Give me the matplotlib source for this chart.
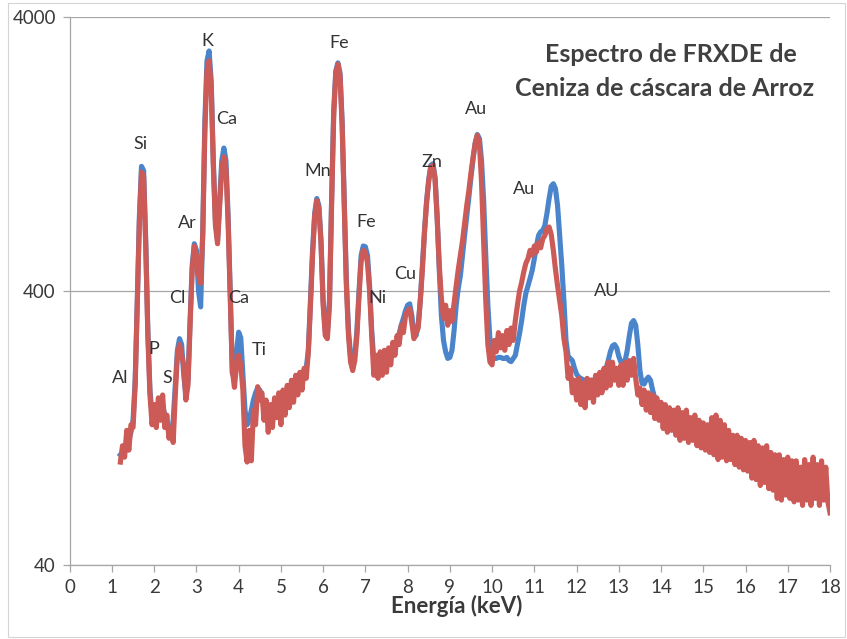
import numpy as np
import matplotlib
matplotlib.use("Agg")
import matplotlib.pyplot as plt
from matplotlib.patches import Rectangle
from matplotlib.ticker import NullLocator, FixedLocator, FixedFormatter

plt.rcParams['font.family'] = ['Lato', 'DejaVu Sans']

# Energy channels (keV), 0.05 keV apart
energy = np.round(np.arange(1.20, 18.0001, 0.05), 2)

# Smooth spectrum (counts), one row per keV
blue_counts = [
    101, 103, 107, 109, 114, 122, 135, 189, 369, 750, 1140, 1100, 611, 287, 174, 141,
    144, 154, 147, 160, 154, 141, 130, 124, 119, 135, 181, 243, 268, 255, 197, 167, 189, 312, 495, 595,
    563, 400, 350, 665, 1670, 2767, 3007, 2340, 1195, 723, 611, 855, 1195, 1330, 1195, 750, 400, 200, 195, 240,
    283, 270, 200, 147, 130, 135, 147, 160, 170, 177, 174, 163, 154, 147, 144, 150, 154, 154, 160, 157,
    160, 163, 165, 167, 170, 170, 174, 177, 181, 184, 189, 197, 209, 243, 369, 563, 770, 870, 820, 611,
    369, 287, 280, 369, 855, 1820, 2545, 2720, 2500, 1670, 855, 437, 287, 233, 218, 233, 287, 400, 540, 584,
    580, 540, 418, 287, 223, 209, 205, 209, 211, 215, 220, 223, 231, 243, 255, 264, 280, 300, 318, 339,
    355, 359, 325, 280, 275, 300, 369, 495, 665, 855, 1020, 1150, 1165, 1040, 750, 476, 325, 264, 240, 227,
    229, 243, 287, 355, 410, 456, 540, 640, 750, 880, 1040, 1215, 1390, 1490, 1440, 1195, 855, 540, 355, 264,
    233, 227, 227, 229, 229, 227, 227, 229, 223, 221, 227, 233, 255, 280, 312, 355, 393, 418, 445, 476,
    525, 584, 638, 658, 665, 695, 770, 870, 965, 985, 945, 820, 638, 495, 369, 264, 231, 227, 223, 209,
    199, 194, 192, 190, 189, 189, 189, 189, 189, 190, 192, 194, 197, 202, 209, 223, 240, 252, 255, 248,
    231, 220, 217, 223, 243, 275, 305, 312, 300, 255, 205, 184, 183, 190, 194, 189, 174, 163, 155, 151,
    150, 149, 147, 147, 147, 146, 144, 142, 140, 137, 135, 134, 132, 131, 130, 129, 127, 126, 126, 125,
    124, 123, 122, 121, 120, 119, 118, 118, 117, 116, 115, 115, 114, 113, 113, 112, 112, 111, 111, 110,
    110, 109, 108, 107, 106, 105, 104, 103, 102, 101, 100, 99, 98, 97, 96, 95, 94, 93, 92, 91,
    90, 89, 88, 87, 86, 85, 84, 83, 82, 81, 80, 79, 78, 77, 76, 75, 74, 73, 72, 71,
    69,
]

# Raw (noisy) spectrum (counts), one row per keV
red_counts = [
    95, 109, 99, 124, 105, 130, 127, 181, 355, 715, 1085, 1050, 584, 275, 167, 130,
    154, 127, 163, 135, 167, 127, 141, 116, 127, 112, 167, 233, 255, 233, 215, 160, 181, 300, 480, 584,
    540, 456, 427, 638, 1530, 2545, 2767, 2220, 1150, 695, 595, 820, 1115, 1235, 1115, 715, 384, 205, 178, 215,
    233, 215, 174, 109, 95, 124, 96, 147, 130, 179, 160, 170, 135, 160, 122, 154, 127, 163, 138, 170,
    130, 174, 141, 181, 150, 189, 157, 197, 167, 202, 174, 209, 192, 240, 355, 540, 750, 855, 800, 595,
    355, 275, 268, 355, 820, 1740, 2500, 2690, 2440, 1600, 820, 418, 275, 220, 205, 223, 275, 384, 517, 563,
    555, 505, 400, 275, 197, 233, 192, 240, 197, 243, 202, 248, 215, 260, 233, 275, 255, 300, 282, 325,
    339, 345, 306, 268, 282, 293, 369, 480, 655, 840, 1010, 1135, 1150, 1020, 730, 495, 375, 318, 355, 300,
    339, 310, 360, 418, 480, 540, 610, 705, 820, 930, 1080, 1230, 1380, 1480, 1380, 1000, 611, 369, 255, 220,
    215, 264, 240, 282, 248, 275, 243, 287, 255, 293, 264, 312, 355, 400, 430, 470, 505, 525, 563, 540,
    584, 555, 600, 575, 620, 638, 675, 685, 644, 563, 480, 418, 369, 325, 268, 240, 192, 209, 170, 189,
    160, 192, 154, 184, 150, 192, 163, 189, 157, 197, 167, 202, 170, 209, 177, 220, 181, 220, 189, 209,
    181, 215, 181, 220, 189, 223, 197, 227, 192, 167, 177, 154, 174, 147, 170, 144, 167, 137, 163, 135,
    157, 126, 154, 122, 150, 124, 147, 119, 150, 114, 144, 116, 147, 112, 138, 114, 141, 109, 135, 107,
    132, 105, 130, 103, 138, 101, 141, 97, 135, 99, 130, 96, 124, 97, 119, 93, 119, 91, 116, 89,
    114, 88, 112, 83, 114, 82, 109, 78, 107, 80, 109, 76, 103, 75, 101, 70, 101, 69, 97, 72,
    99, 70, 96, 68, 96, 69, 91, 66, 97, 69, 93, 66, 99, 70, 93, 66, 96, 69, 91, 68,
    62,
]

x_ticks = list(range(0, 19))
y_ticks = [40, 400, 4000]
y_tick_labels = ["40", "400", "4000"]

# Element labels: (name, energy keV, counts)
peak_labels = [
    ("Si", 1.67, 1375), ("K", 3.25, 3270), ("Ca", 3.72, 1700), ("Ar", 2.78, 711),
    ("Cl", 2.54, 376), ("Ca", 4.01, 376), ("P", 2.00, 245), ("Ti", 4.48, 243),
    ("Al", 1.19, 192), ("S", 2.30, 193), ("Fe", 6.38, 3217), ("Mn", 5.86, 1100),
    ("Fe", 7.01, 716), ("Ni", 7.28, 376), ("Cu", 7.94, 463), ("Zn", 8.58, 1185),
    ("Au", 9.62, 1850), ("Au", 10.75, 945), ("AU", 12.70, 400),
]

title_lines = ["Espectro de FRXDE de", "Ceniza de cáscara de Arroz"]
x_label = "Energía (keV)"

assert len(blue_counts) == len(energy) == len(red_counts)

W, H = 847, 639
fig = plt.figure(figsize=(W / 100, H / 100), dpi=100)
fig.patch.set_facecolor("white")
fig.patches.append(Rectangle((8 / W, 2 / H), 837 / W, 634 / H, transform=fig.transFigure,
                             fill=False, ec="#d4d4d4", lw=0.8))

ax = fig.add_axes([69.7 / W, 1 - 565 / H, 760.3 / W, 548 / H])
ax.set_yscale("log")
ax.set_xlim(0, 18)
ax.set_ylim(40, 4000)

ax.plot(energy, blue_counts, color="#4a85cc", lw=3.7, solid_joinstyle="round", zorder=3)
ax.plot(energy, red_counts, color="#cc5a56", lw=3.7, solid_joinstyle="round", zorder=4)

grey = "#a6a6a6"
ax.xaxis.set_major_locator(FixedLocator(x_ticks))
ax.yaxis.set_major_locator(FixedLocator(y_ticks))
ax.yaxis.set_major_formatter(FixedFormatter(y_tick_labels))
ax.yaxis.set_minor_locator(NullLocator())
ax.xaxis.set_minor_locator(NullLocator())
ax.grid(axis="y", color=grey, lw=0.9, zorder=1)
for s in ("top", "right"):
    ax.spines[s].set_visible(False)
for s in ("left", "bottom"):
    ax.spines[s].set_color(grey)
    ax.spines[s].set_linewidth(0.9)
ax.tick_params(axis="both", direction="out", length=5, width=0.9, color=grey,
               labelsize=13.5, labelcolor="#3a3a3a")
ax.tick_params(axis="y", pad=5)
ax.tick_params(axis="x", pad=5)

for name, e, c in peak_labels:
    ax.text(e, c, name, ha="center", va="center", fontsize=13, color="#333333", zorder=5)

fig.text(671 / W, 1 - 54 / H, title_lines[0], ha="center", va="center",
         fontsize=18, fontweight="bold", color="#404040")
fig.text(665 / W, 1 - 89 / H, title_lines[1], ha="center", va="center",
         fontsize=18, fontweight="bold", color="#404040")
fig.text(457 / W, 1 - 606 / H, x_label, ha="center", va="center",
         fontsize=16, fontweight="bold", color="#3a3a3a")

fig.savefig("out.png", dpi=100, facecolor="white")
